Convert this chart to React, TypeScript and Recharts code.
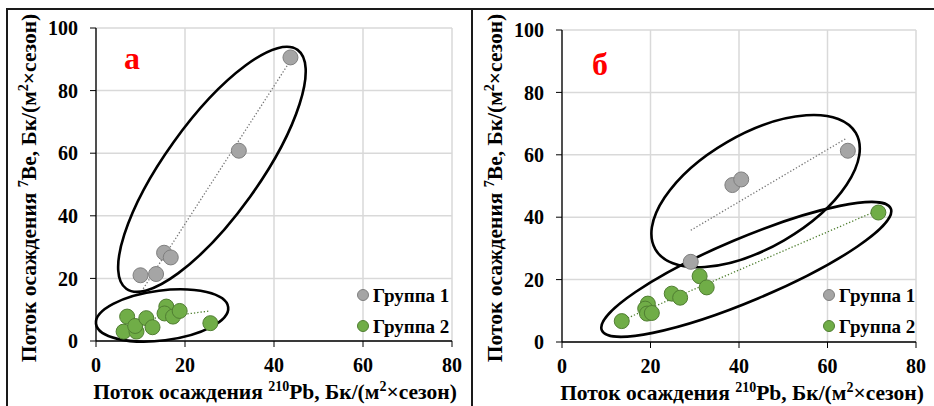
import React from "react"
import {
  ScatterChart, Scatter, XAxis, YAxis, CartesianGrid, ReferenceLine, Label,
} from "recharts"

// panel а
const aGroup1X = [43.7, 32.1, 15.3, 16.8, 10.0, 13.5]
const aGroup1Y = [90.6, 60.8, 28.2, 26.7, 21.0, 21.4]
const aGroup2X = [7.0, 6.2, 9.1, 8.8, 11.3, 12.7, 15.8, 15.4, 17.3, 18.8, 25.7]
const aGroup2Y = [7.8, 3.0, 3.0, 4.8, 7.3, 4.4, 11.0, 8.8, 7.8, 9.6, 5.7]
const aTrend1 = [[10.2, 15.8], [43.7, 89.6]]
const aTrend2 = [[7.3, 6.2], [25.6, 9.6]]
// ellipses: major axis ends + minor/major ratio
const aEllipse1 = { ends: [[6.8, 16.7], [45.3, 93.0]], ratio: 0.32 }
const aEllipse2 = { ends: [[0, 5.5], [29.7, 10.8]], ratio: 0.375 }

// panel б
const bGroup1X = [64.6, 38.5, 40.5, 29.1]
const bGroup1Y = [61.3, 50.3, 52.1, 25.7]
const bGroup2X = [13.5, 19.4, 18.8, 19.2, 20.3, 24.8, 26.7, 31.1, 32.7, 71.5]
const bGroup2Y = [6.7, 12.3, 10.7, 9.1, 9.3, 15.5, 14.2, 21.1, 17.5, 41.5]
const bTrend1 = [[29.1, 35.8], [64.3, 65.3]]
const bTrend2 = [[13.5, 6.9], [71.5, 42.3]]
const bEllipse1 = { ends: [[21.1, 29.7], [66.4, 67.0]], ratio: 0.49 }
const bEllipse2 = { ends: [[9.0, 3.75], [74.3, 42.8]], ratio: 0.2 }

const xTicks = [0, 20, 40, 60, 80]
const yTicks = [0, 20, 40, 60, 80, 100]
const legendNames = ["Группа 1", "Группа 2"]

const FONT = "Liberation Serif, DejaVu Serif, serif"
const GREY = "#a5a5a5"
const GREY_EDGE = "#7f7f7f"
const GREEN = "#70ad47"
const GREEN_EDGE = "#507e32"

const zip = (xs: number[], ys: number[]) => xs.map((x, i) => ({ x, y: ys[i] }))

const dot = (fill: string, stroke: string) => (p: any) => (
  <circle cx={p.cx} cy={p.cy} r={7.5} fill={fill} stroke={stroke} strokeWidth={1} />
)

const ellipseShape = (ratio: number) => (p: any) => {
  const { x1, y1, x2, y2 } = p
  const cx = (x1 + x2) / 2
  const cy = (y1 + y2) / 2
  const a = Math.hypot(x2 - x1, y2 - y1) / 2
  const ang = (Math.atan2(y2 - y1, x2 - x1) * 180) / Math.PI
  return (
    <ellipse
      cx={cx} cy={cy} rx={a} ry={a * ratio}
      transform={`rotate(${ang} ${cx} ${cy})`}
      fill="none" stroke="#000" strokeWidth={2.6}
    />
  )
}

const seg = (pts: number[][]) => pts.map(([x, y]) => ({ x, y }))

type Ell = { ends: number[][]; ratio: number }

type PanelProps = {
  left: number
  width: number
  margin: { top: number; right: number; bottom: number; left: number }
  letter: string
  letterPos: [number, number]
  g1: { x: number; y: number }[]
  g2: { x: number; y: number }[]
  trend1: number[][]
  trend2: number[][]
  ell1: Ell
  ell2: Ell
  legendPos: [number, number]
  yTitleX: number
  xTitleX: number
}

function Panel(props: PanelProps) {
  const { margin } = props
  return (
    <div style={{ position: "absolute", left: props.left, top: 0, width: props.width, height: 406, fontFamily: FONT }}>
      <ScatterChart width={props.width} height={406} margin={margin} style={{ fontFamily: FONT }}>
        <CartesianGrid stroke="#d9d9d9" strokeWidth={1.5} />
        <XAxis
          type="number" dataKey="x" domain={[0, 80]} ticks={xTicks} height={30}
          tick={{ fill: "#000", fontSize: 20, fontWeight: 700, fontFamily: FONT }}
          tickSize={6} tickMargin={11}
          axisLine={{ stroke: "#000", strokeWidth: 1.3 }} tickLine={{ stroke: "#000" }}
        >
          <Label
            content={(lp: any) => {
              const vb = lp.viewBox
              return (
                <text x={props.xTitleX} y={vb.y + 58} textAnchor="middle"
                  style={{ fontFamily: FONT }} fontWeight={700} fontSize={21.5} fill="#000">
                  Поток осаждения <tspan fontSize={14} dy={-8}>210</tspan>
                  <tspan dy={8}>Pb, Бк/(м</tspan>
                  <tspan fontSize={14} dy={-8}>2</tspan>
                  <tspan dy={8}>×сезон)</tspan>
                </text>
              )
            }}
          />
        </XAxis>
        <YAxis
          type="number" dataKey="y" domain={[0, 100]} ticks={yTicks} width={40}
          tick={{ fill: "#000", fontSize: 20, fontWeight: 700, fontFamily: FONT }}
          tickSize={6} tickMargin={12}
          axisLine={{ stroke: "#000", strokeWidth: 1.3 }} tickLine={{ stroke: "#000" }}
        >
          <Label
            content={() => (
              <text x={props.yTitleX} y={188} textAnchor="middle"
                transform={`rotate(-90 ${props.yTitleX} 188)`}
                style={{ fontFamily: FONT }} fontWeight={700} fontSize={21.5} fill="#000">
                Поток осаждения <tspan fontSize={14} dy={-8}>7</tspan>
                <tspan dy={8}>Be, Бк/(м</tspan>
                <tspan fontSize={14} dy={-8}>2</tspan>
                <tspan dy={8}>×сезон)</tspan>
              </text>
            )}
          />
        </YAxis>
        <ReferenceLine segment={seg(props.trend1)} stroke="#767676" strokeWidth={1.3}
          strokeDasharray="1.3 2" ifOverflow="visible" />
        <ReferenceLine segment={seg(props.trend2)} stroke="#4f7f30" strokeWidth={1.3}
          strokeDasharray="1.3 2" ifOverflow="visible" />
        <Scatter data={props.g1} shape={dot(GREY, GREY_EDGE)} isAnimationActive={false} />
        <Scatter data={props.g2} shape={dot(GREEN, GREEN_EDGE)} isAnimationActive={false} />
        <ReferenceLine segment={seg(props.ell1.ends)} shape={ellipseShape(props.ell1.ratio)}
          ifOverflow="visible" />
        <ReferenceLine segment={seg(props.ell2.ends)} shape={ellipseShape(props.ell2.ratio)}
          ifOverflow="visible" />
      </ScatterChart>
      <svg width={props.width} height={406}
        style={{ position: "absolute", left: 0, top: 0, pointerEvents: "none", fontFamily: FONT }}>
        <text x={props.letterPos[0]} y={props.letterPos[1]} textAnchor="middle"
          fontWeight={700} fontSize={32} fill="#ff0000">
          {props.letter}
        </text>
        {legendNames.map((name, i) => (
          <g key={name}>
            <circle cx={props.legendPos[0]} cy={props.legendPos[1] + i * 31} r={5.5}
              fill={i === 0 ? GREY : GREEN} stroke={i === 0 ? GREY_EDGE : GREEN_EDGE} />
            <text x={props.legendPos[0] + 10} y={props.legendPos[1] + 7 + i * 31}
              fontWeight={700} fontSize={19} fill="#000">
              {name}
            </text>
          </g>
        ))}
      </svg>
    </div>
  )
}

export default function App() {
  return (
    <div style={{ position: "absolute", left: 0, top: 0, width: 934, height: 406, background: "#fff", overflow: "hidden" }}>
      <Panel
        left={0} width={472}
        margin={{ top: 28, right: 20, bottom: 35, left: 56 }}
        letter="а" letterPos={[132, 69]}
        g1={zip(aGroup1X, aGroup1Y)} g2={zip(aGroup2X, aGroup2Y)}
        trend1={aTrend1} trend2={aTrend2}
        ell1={aEllipse1} ell2={aEllipse2}
        legendPos={[363, 295]}
        yTitleX={36} xTitleX={275}
      />
      <Panel
        left={472} width={462}
        margin={{ top: 30, right: 18, bottom: 34, left: 50 }}
        letter="б" letterPos={[128, 75]}
        g1={zip(bGroup1X, bGroup1Y)} g2={zip(bGroup2X, bGroup2Y)}
        trend1={bTrend1} trend2={bTrend2}
        ell1={bEllipse1} ell2={bEllipse2}
        legendPos={[357, 295]}
        yTitleX={30} xTitleX={270}
      />
      <div style={{ position: "absolute", left: 7, top: 8, width: 927, height: 2, background: "#1a1a1a" }} />
      <div style={{ position: "absolute", left: 6, top: 8, width: 2, height: 398, background: "#1a1a1a" }} />
      <div style={{ position: "absolute", left: 471, top: 8, width: 2, height: 398, background: "#1a1a1a" }} />
    </div>
  )
}
